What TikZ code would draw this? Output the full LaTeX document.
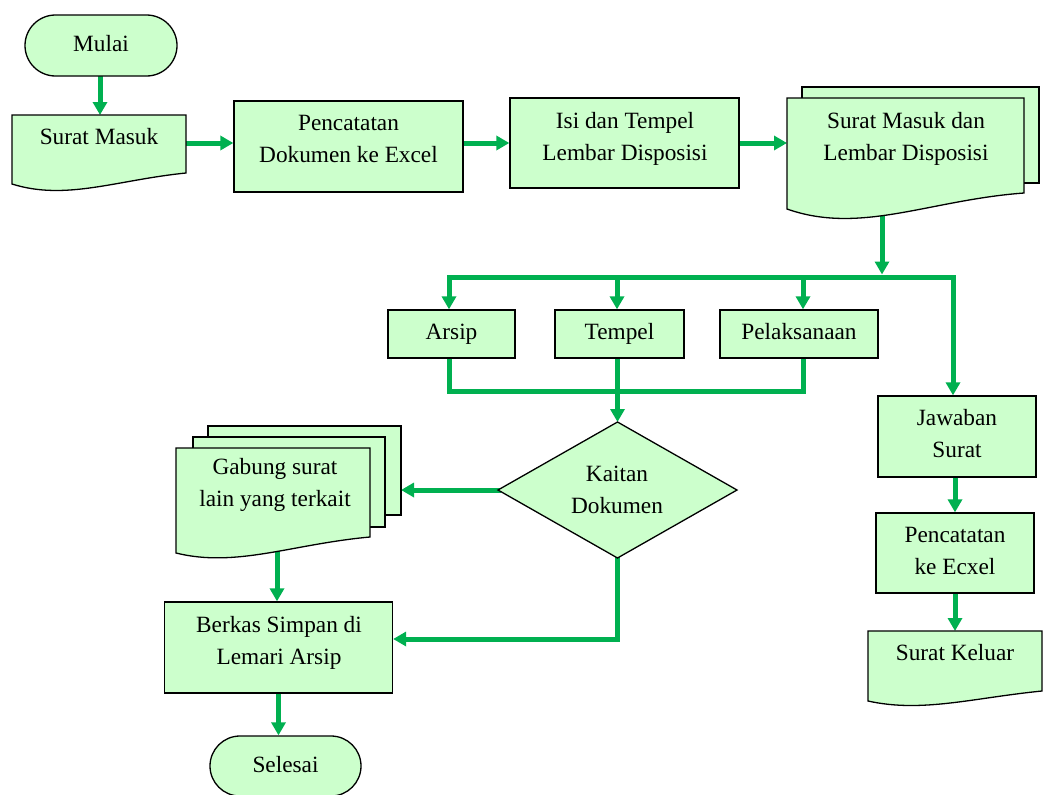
\documentclass[tikz,border=0pt]{standalone}
\usepackage{fontspec}
\setmainfont{Liberation Serif}
\usetikzlibrary{arrows.meta,shapes.misc,calc}
\definecolor{flowgreen}{HTML}{00B050}
\definecolor{boxfill}{HTML}{CCFFCC}
\pgfdeclarelayer{bg}
\pgfsetlayers{bg,main}
\newcommand\twoline[2]{\strut #1\\\strut #2}
\newcommand\oneline[1]{\strut #1}
% x0, ytop, x1, y right-bottom, y left-bottom, wave depth
\newcommand\docshape[6]{%
  \filldraw[shapeline] (#1,#2) -- (#3,#2) -- (#3,#4)
    .. controls ({#1+0.6*(#3-#1)},{#4+7}) and ({#1+0.31*(#3-#1)},{#5+#6}) .. (#1,#5) -- cycle;}
\begin{document}
\begin{tikzpicture}[x=1pt,y=-1pt,
  shapeline/.style={draw=black, fill=boxfill, line width=1.3pt},
  box/.style={shapeline, rectangle, inner sep=0pt},
  term/.style={shapeline, rounded rectangle, inner sep=0pt, font=\fontsize{23.3}{32}\selectfont},
  txt/.style={inner sep=0pt, align=center, font=\fontsize{23.3}{32}\selectfont},
  conn/.style={draw=flowgreen, line width=5pt, line cap=rect},
  arr/.style={conn, -{Triangle[width=14pt,length=13pt]}}]
\useasboundingbox (0,0) rectangle (1044,795);

% Start
\node[term, minimum width=152pt, minimum height=61pt] (mulai) at (101,45.5) {\oneline{Mulai}};

% Surat Masuk (document)
\docshape{12}{115}{186}{173}{184}{17}
\node[txt] (sm) at (99,137.6) {\oneline{Surat Masuk}};
\coordinate (smtop) at (100,115);
\coordinate (smright) at (186,143);

% Pencatatan Dokumen ke Excel
\node[box, minimum width=229pt, minimum height=91pt] (pen1) at (348.5,146.5) {};
\node[txt] (pen1t) at (348.5,140.4) {\twoline{Pencatatan}{Dokumen ke Excel}};

% Isi dan Tempel
\node[box, minimum width=229pt, minimum height=90pt] (isi) at (624.5,143) {};
\node[txt] (isit) at (625,137.6) {\twoline{Isi dan Tempel}{Lembar Disposisi}};

% Surat Masuk dan Lembar Disposisi (multi-document)
\filldraw[shapeline] (802,87) rectangle (1039,183);
\docshape{787}{98}{1024}{193}{209}{26}
\node[txt] (smld) at (906,138.3) {\twoline{Surat Masuk dan}{Lembar Disposisi}};
\coordinate (smldleft) at (787,143);
\coordinate (smldbot) at (882,212);

\coordinate (bus) at (0,277);
\coordinate (collect) at (0,391);

% Arsip, Tempel, Pelaksanaan
\node[box, minimum width=127pt, minimum height=48pt] (arsip) at (451.5,334) {};
\node[txt] (arsipt) at (451.5,332.6) {\oneline{Arsip}};
\node[box, minimum width=129pt, minimum height=48pt] (tempel) at (619.5,334) {};
\node[txt] (tempelt) at (619.5,332.6) {\oneline{Tempel}};
\node[box, minimum width=158pt, minimum height=48pt] (pelak) at (799,334) {};
\node[txt] (pelakt) at (799,332.6) {\oneline{Pelaksanaan}};

% Right column
\node[box, minimum width=158pt, minimum height=81pt] (jawab) at (957,436.5) {};
\node[txt] (jawabt) at (957,435) {\twoline{Jawaban}{Surat}};
\node[box, minimum width=158pt, minimum height=80pt] (pen2) at (955,553) {};
\node[txt] (pen2t) at (955,551.6) {\twoline{Pencatatan}{ke Ecxel}};
\docshape{868}{631}{1042}{691}{701}{12}
\node[txt] (sk) at (955,654.3) {\oneline{Surat Keluar}};
\coordinate (sktop) at (955,631);

% Decision
\coordinate (dtop) at (617.5,422);
\coordinate (dright) at (737,490);
\coordinate (dbot) at (617.5,558);
\coordinate (dleft) at (498,490);
\filldraw[shapeline] (dtop) -- (dright) -- (dbot) -- (dleft) -- cycle;
\node[txt] (kaitan) at (617,490.8) {\twoline{Kaitan}{Dokumen}};

% Gabung surat (multi-document)
\filldraw[shapeline] (208,426) rectangle (401,515);
\filldraw[shapeline] (193,437) rectangle (385,527);
\docshape{176}{448}{370}{537}{553}{15}
\node[txt] (gab) at (275,484.4) {\twoline{Gabung surat}{lain yang terkait}};
\coordinate (gabright) at (401,490);
\coordinate (gabbot) at (277,545);

% Berkas & Selesai
\node[box, minimum width=228pt, minimum height=91pt] (berkas) at (278.5,647.5) {};
\node[txt] (berkast) at (279,642) {\twoline{Berkas Simpan di}{Lemari Arsip}};
\node[term, minimum width=151pt, minimum height=60pt] (selesai) at (285.5,766) {\oneline{Selesai}};

% Connectors
\begin{pgfonlayer}{bg}
\draw[arr] (mulai.south -| smtop) -- (smtop);
\draw[arr] (smright) -- (smright -| pen1.west);
\draw[arr] (pen1.east |- isi) -- (isi.west);
\draw[arr] (isi.east) -- (smldleft);
\draw[arr] (smldbot) -- ([yshift=2.5pt]smldbot |- bus);
\draw[arr] ([xshift=-2.5pt]arsip.north |- bus) -- ([xshift=-4pt]jawab.north |- bus) -- ([xshift=-4pt]jawab.north);
\draw[arr] ([xshift=-2.5pt]arsip.north |- bus) -- ([xshift=-2.5pt]arsip.north);
\draw[arr] ([xshift=-2.5pt]tempel.north |- bus) -- ([xshift=-2.5pt]tempel.north);
\draw[arr] ([xshift=4pt]pelak.north |- bus) -- ([xshift=4pt]pelak.north);
\draw[conn] ([xshift=-2.5pt]arsip.south) -- ([xshift=-2.5pt]arsip.south |- collect) -| ([xshift=4pt]pelak.south);
\draw[arr] (tempel.south -| dtop) -- (dtop);
\draw[arr] (dleft) -- (gabright);
\draw[arr] (gabbot) -- (gabbot |- berkas.north);
\draw[arr] (dbot) |- ([yshift=8.5pt]berkas.east);
\draw[arr] (berkas.south) -- (berkas.south |- selesai.north);
\draw[arr] (jawab.south -| pen2) -- (pen2.north);
\draw[arr] (pen2.south) -- (sktop);
\end{pgfonlayer}
\end{tikzpicture}
\end{document}
